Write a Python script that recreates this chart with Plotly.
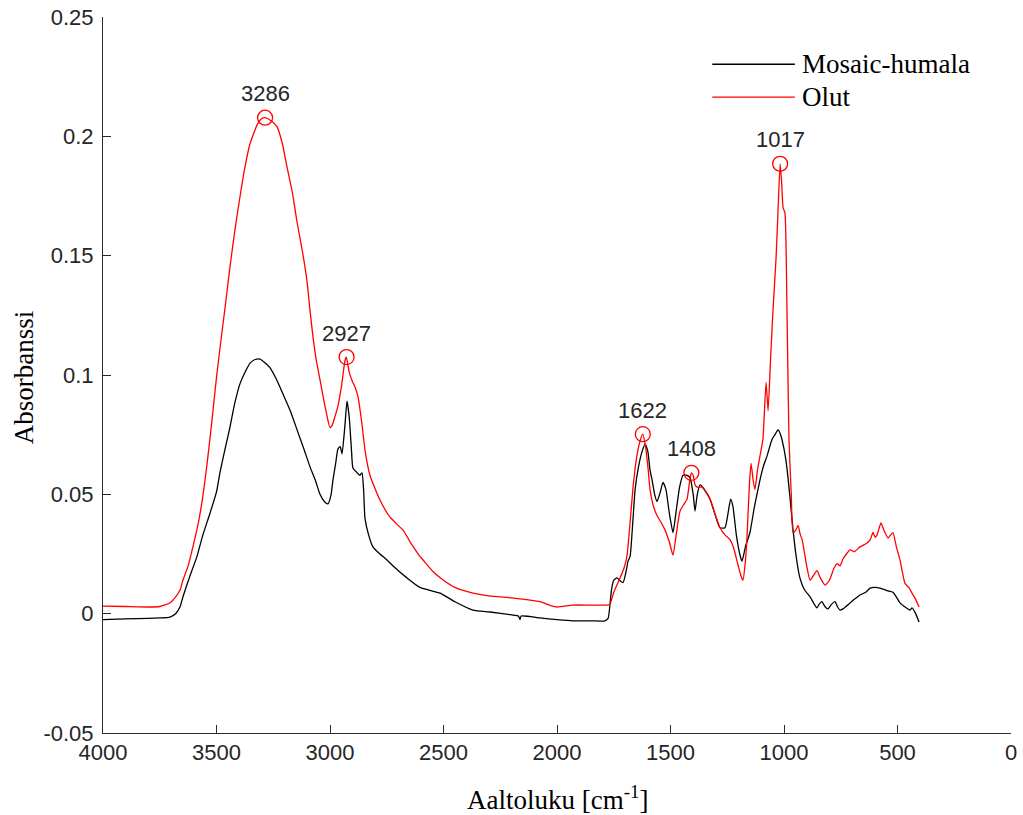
import plotly.graph_objects as go

# FTIR absorbance spectra: wavenumber (cm^-1) and absorbance
hop_wn = [4000, 3900, 3800, 3750, 3705, 3680, 3660, 3648, 3620, 3586, 3560, 3529, 3500, 3485,
          3460, 3441, 3420, 3396, 3370, 3352, 3330, 3308, 3285, 3264, 3235, 3207, 3175, 3145,
          3115, 3088, 3065, 3044, 3025, 3009, 2995, 2987, 2975, 2965, 2955, 2947, 2935, 2925,
          2915, 2905, 2899, 2880, 2868, 2859, 2852, 2846, 2830, 2811, 2780, 2749, 2722, 2661,
          2604, 2515, 2450, 2370, 2295, 2200, 2170, 2163, 2158, 2075, 2000, 1930, 1850, 1789,
          1775, 1760, 1750, 1736, 1725, 1709, 1695, 1687, 1678, 1665, 1656, 1640, 1625, 1612,
          1600, 1590, 1581, 1570, 1559, 1545, 1533, 1520, 1505, 1489, 1475, 1460, 1445, 1430,
          1414, 1400, 1392, 1382, 1370, 1350, 1326, 1305, 1282, 1260, 1245, 1235, 1225, 1210,
          1195, 1185, 1170, 1150, 1130, 1106, 1090, 1075, 1053, 1040, 1026, 1015, 1000, 987,
          975, 960, 945, 930, 910, 885, 855, 845, 833, 820, 806, 790, 775, 765, 753, 740, 709,
          690, 665, 640, 621, 600, 577, 550, 520, 505, 489, 470, 445, 436, 420, 405]
hop_abs = [-0.0025, -0.0022, -0.002, -0.0018, -0.0014, 0.0, 0.003, 0.007, 0.015, 0.024, 0.033,
           0.042, 0.051, 0.059, 0.070, 0.078, 0.088, 0.0965, 0.102, 0.105, 0.1065, 0.1067, 0.105,
           0.103, 0.098, 0.092, 0.085, 0.077, 0.069, 0.0615, 0.056, 0.050, 0.047, 0.046, 0.050,
           0.056, 0.063, 0.069, 0.070, 0.067, 0.078, 0.089, 0.082, 0.068, 0.061, 0.059, 0.058,
           0.059, 0.052, 0.040, 0.033, 0.028, 0.025, 0.0225, 0.020, 0.015, 0.011, 0.0086, 0.005,
           0.0015, 0.0007, -0.0005, -0.001, -0.0025, -0.001, -0.0018, -0.0025, -0.003, -0.003,
           -0.003, -0.002, 0.010, 0.014, 0.015, 0.014, 0.013, 0.018, 0.022, 0.024, 0.040, 0.052,
           0.062, 0.068, 0.071, 0.068, 0.060, 0.056, 0.050, 0.047, 0.051, 0.055, 0.052, 0.042,
           0.034, 0.043, 0.053, 0.058, 0.058, 0.057, 0.050, 0.043, 0.050, 0.054, 0.052, 0.048,
           0.042, 0.036, 0.036, 0.043, 0.048, 0.045, 0.033, 0.025, 0.022, 0.028, 0.034, 0.045,
           0.056, 0.062, 0.066, 0.073, 0.075, 0.077, 0.075, 0.069, 0.061, 0.050, 0.035, 0.023,
           0.015, 0.010, 0.007, 0.0024, 0.004, 0.005, 0.003, 0.002, 0.004, 0.005, 0.003, 0.0015,
           0.002, 0.0045, 0.006, 0.0078, 0.009, 0.0107, 0.011, 0.0107, 0.0098, 0.009, 0.007,
           0.0045, 0.003, 0.0015, 0.0024, 0.0, -0.0035]

beer_wn = [4000, 3900, 3800, 3750, 3705, 3680, 3660, 3648, 3625, 3604, 3580, 3559, 3540, 3520,
           3500, 3485, 3460, 3441, 3420, 3396, 3375, 3352, 3320, 3300, 3286, 3260, 3233, 3210,
           3189, 3165, 3145, 3120, 3101, 3088, 3075, 3060, 3044, 3020, 3000, 2990, 2980, 2965,
           2950, 2934, 2928, 2915, 2900, 2890, 2877, 2860, 2845, 2824, 2800, 2780, 2740, 2700,
           2678, 2640, 2604, 2590, 2550, 2500, 2450, 2370, 2300, 2200, 2119, 2075, 2030, 2000,
           1930, 1850, 1780, 1767, 1750, 1722, 1705, 1692, 1680, 1665, 1650, 1635, 1622, 1610,
           1600, 1590, 1575, 1559, 1540, 1524, 1505, 1489, 1475, 1458, 1440, 1427, 1415, 1408,
           1400, 1392, 1383, 1361, 1345, 1326, 1305, 1282, 1260, 1238, 1220, 1207, 1190, 1181,
           1170, 1163, 1152, 1145, 1136, 1128, 1117, 1106, 1093, 1079, 1070, 1060, 1048, 1035,
           1025, 1017, 1010, 1004, 996, 987, 978, 968, 960, 948, 938, 928, 920, 900, 885, 870,
           855, 840, 819, 800, 780, 766, 753, 740, 725, 709, 690, 665, 634, 620, 608, 598, 590,
           573, 560, 542, 530, 520, 505, 489, 467, 450, 436, 420, 405]
beer_abs = [0.0032, 0.003, 0.0028, 0.003, 0.0045, 0.007, 0.010, 0.014, 0.020, 0.028, 0.038,
            0.050, 0.064, 0.081, 0.099, 0.111, 0.130, 0.145, 0.160, 0.175, 0.187, 0.197, 0.205,
            0.2075, 0.2078, 0.2065, 0.204, 0.197, 0.187, 0.176, 0.164, 0.151, 0.139, 0.127,
            0.116, 0.106, 0.098, 0.086, 0.078, 0.079, 0.082, 0.087, 0.095, 0.106, 0.1075, 0.101,
            0.097, 0.095, 0.091, 0.080, 0.068, 0.058, 0.052, 0.0476, 0.041, 0.037, 0.035, 0.029,
            0.024, 0.0225, 0.018, 0.014, 0.011, 0.0086, 0.0075, 0.0066, 0.0057, 0.0050, 0.0035,
            0.0028, 0.0036, 0.0036, 0.0036, 0.004, 0.009, 0.015, 0.019, 0.024, 0.036, 0.053,
            0.065, 0.072, 0.0752, 0.070, 0.062, 0.052, 0.045, 0.041, 0.038, 0.035, 0.030, 0.0245,
            0.033, 0.043, 0.046, 0.048, 0.056, 0.059, 0.058, 0.054, 0.053, 0.053, 0.051, 0.048,
            0.042, 0.036, 0.033, 0.031, 0.027, 0.022, 0.016, 0.014, 0.022, 0.032, 0.055, 0.063,
            0.056, 0.052, 0.060, 0.066, 0.073, 0.097, 0.085, 0.105, 0.128, 0.149, 0.172, 0.1885,
            0.180, 0.170, 0.168, 0.128, 0.073, 0.050, 0.034, 0.035, 0.037, 0.033, 0.031, 0.020,
            0.014, 0.016, 0.018, 0.015, 0.012, 0.014, 0.019, 0.021, 0.020, 0.023, 0.025, 0.0267,
            0.026, 0.028, 0.0296, 0.031, 0.034, 0.032, 0.033, 0.038, 0.035, 0.0317, 0.033, 0.034,
            0.028, 0.0225, 0.0127, 0.011, 0.0086, 0.006, 0.0028]

# Labelled peaks on the beer spectrum
peak_wn = [3286, 2927, 1622, 1408, 1017]
peak_abs = [0.2078, 0.1075, 0.0752, 0.059, 0.1885]
peak_labels = ["3286", "2927", "1622", "1408", "1017"]

series_names = ["Mosaic-humala", "Olut"]
series_colors = ["#000000", "#ff0000"]

x_ticks = [4000, 3500, 3000, 2500, 2000, 1500, 1000, 500, 0]
y_ticks = [-0.05, 0, 0.05, 0.1, 0.15, 0.2, 0.25]
y_tick_text = ["-0.05", "0", "0.05", "0.1", "0.15", "0.2", "0.25"]

axis_color = "#2b2b2b"
tick_font = dict(family="Liberation Sans, Arial, sans-serif", size=22, color="#262626")
serif = "Liberation Serif, Times New Roman, serif"

fig = go.Figure()
fig.add_trace(go.Scatter(x=hop_wn, y=hop_abs, mode="lines", name=series_names[0],
                         line=dict(color=series_colors[0], width=1.3, shape="spline",
                                   smoothing=0.5)))
fig.add_trace(go.Scatter(x=beer_wn, y=beer_abs, mode="lines", name=series_names[1],
                         line=dict(color=series_colors[1], width=1.3, shape="spline",
                                   smoothing=0.5)))
fig.add_trace(go.Scatter(x=peak_wn, y=peak_abs, mode="markers", name="peaks",
                         marker=dict(symbol="circle-open", size=15, color="#ff0000",
                                     line=dict(width=1.3, color="#ff0000"))))

annotations = []
for wn, a, lab in zip(peak_wn, peak_abs, peak_labels):
    annotations.append(dict(x=wn, y=a, xref="x", yref="y", text=lab, showarrow=False,
                            yshift=24, font=tick_font, xanchor="center", yanchor="middle"))

# Legend drawn as line samples plus serif labels
legend_rows = [0.934, 0.888]
shapes = []
for name, color, ly in zip(series_names, series_colors, legend_rows):
    shapes.append(dict(type="line", xref="paper", yref="paper", x0=0.671, x1=0.762,
                       y0=ly, y1=ly, line=dict(color=color, width=1.3)))
    annotations.append(dict(x=0.768, y=ly, xref="paper", yref="paper", text=name,
                            showarrow=False, xanchor="left", yanchor="middle",
                            font=dict(family=serif, size=27, color="#000000")))

# Axis titles
annotations.append(dict(x=0.5, y=-0.091, xref="paper", yref="paper",
                        text="Aaltoluku [cm<sup>-1</sup>]", showarrow=False,
                        xanchor="center", yanchor="middle",
                        font=dict(family=serif, size=27, color="#000000")))
annotations.append(dict(x=-0.087, y=0.497, xref="paper", yref="paper", text="Absorbanssi",
                        showarrow=False, textangle=-90, xanchor="center", yanchor="middle",
                        font=dict(family=serif, size=27, color="#000000")))

fig.update_layout(
    width=1023, height=815,
    margin=dict(l=103, r=12, t=17, b=82, autoexpand=False),
    paper_bgcolor="white", plot_bgcolor="white",
    showlegend=False,
    shapes=shapes,
    annotations=annotations,
    xaxis=dict(range=[4000, 0], tickvals=x_ticks, ticktext=[str(v) for v in x_ticks],
               showgrid=False, zeroline=False, showline=True, linecolor=axis_color,
               linewidth=1, ticks="inside", ticklen=8, tickwidth=1, tickcolor=axis_color,
               tickfont=tick_font, mirror=False, automargin=False),
    yaxis=dict(range=[-0.05, 0.25], tickvals=y_ticks, ticktext=y_tick_text,
               showgrid=False, zeroline=False, showline=True, linecolor=axis_color,
               linewidth=1, ticks="inside", ticklen=8, tickwidth=1, tickcolor=axis_color,
               tickfont=tick_font, mirror=False, ticklabelstandoff=4, automargin=False),
)

fig.write_html("out.html")
